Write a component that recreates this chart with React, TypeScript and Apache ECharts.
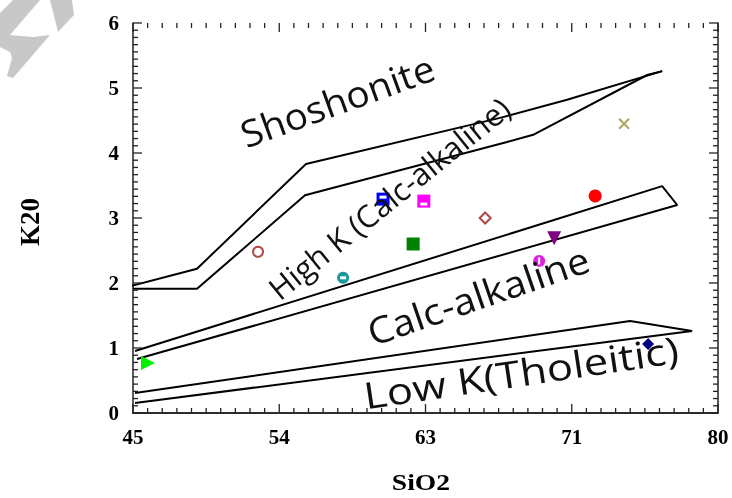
import React, { useEffect, useRef } from "react";
import * as echarts from "echarts";

// Axis ticks (major values; labels rounded)
const xMajor = [45, 53.75, 62.5, 71.25, 80];
const yMajor = [0, 1, 2, 3, 4, 5, 6];
const xMinorPerMajor = 10;
const yMinorPerMajor = 9;

// Field boundaries [SiO2, K2O]
const shoUpper = [[44.22, 1.91], [48.83, 2.22], [55.35, 3.83], [66.96, 4.54], [70.97, 4.82], [76.66, 5.26]];
const shoLower = [[45, 1.91], [48.83, 1.91], [55.29, 3.35], [67.38, 4.17], [68.94, 4.28], [75.76, 5.2], [76.66, 5.26]];
const caBand = [[45.12, 0.954], [76.66, 3.49], [77.56, 3.2], [45.24, 0.83]];
const lowKBand = [[45.12, 0.308], [74.74, 1.415], [78.45, 1.26], [45.12, 0.154]];

// Samples
const sGreenTri = [[45.9, 0.77]];
const sTealCircle = [[57.57, 2.08]];
const sBrownCircle = [[52.48, 2.48]];
const sBrownDiamond = [[66.07, 3.0]];
const sBlueSquare = [[59.96, 3.29]];
const sMagentaSquare = [[62.4, 3.26]];
const sGreenSquare = [[61.76, 2.6]];
const sRedCircle = [[72.65, 3.34]];
const sPurpleTri = [[70.2, 2.69]];
const sMagentaCircle = [[69.3, 2.34]];
const sOliveX = [[74.38, 4.45]];
const sNavyDiamond = [[75.82, 1.06]];

const fieldLabels = [
  { text: "Shoshonite", x: 337, y: 100, angle: 20, size: 37, sx: 1.05 },
  { text: "High K (Calc-alkaline)", x: 389, y: 198, angle: 39, size: 31, sx: 1.0 },
  { text: "Calc-alkaline", x: 478, y: 295, angle: 19, size: 37, sx: 1.08 },
  { text: "Low K(Tholeitic)", x: 521, y: 372, angle: 8.5, size: 37, sx: 1.18 },
];

export default function App() {
  const ref = useRef<HTMLDivElement>(null);
  useEffect(() => {
    if (!ref.current) return;
    const chart = echarts.init(ref.current, null, { renderer: "svg" });
    const axisCommon = {
      type: "value",
      axisLine: { show: true, lineStyle: { color: "#222", width: 1.5 } },
      axisTick: { show: false },
      splitLine: { show: false },
    };
    const labelStyle = { color: "#000", fontFamily: "Liberation Serif", fontWeight: "bold", fontSize: 21 };
    const line = (data: number[][], clip = true) => ({
      type: "line",
      data,
      symbol: "none",
      clip,
      lineStyle: { color: "#000", width: 2 },
      z: 2,
      silent: true,
    });
    const sc = (data: number[][], symbol: string, size: any, itemStyle: any, extra: any = {}) => ({
      type: "scatter",
      data,
      symbol,
      symbolSize: size,
      itemStyle: { opacity: 1, ...itemStyle },
      z: 5,
      ...extra,
    });
    const bar = (data: number[][], size: any, offset: number[]) =>
      sc(data, "rect", size, { color: "#fff" }, { symbolOffset: offset, z: 6 });

    const tickSeries = {
      type: "custom",
      data: [[45, 0]],
      clip: false,
      silent: true,
      z: 3,
      renderItem: (_params: any, api: any) => {
        const children: any[] = [];
        const seg = (x1: number, y1: number, x2: number, y2: number) =>
          children.push({
            type: "line",
            shape: { x1, y1, x2, y2 },
            style: { stroke: "#222", lineWidth: 1.3 },
          });
        const y0 = yMajor[0];
        const y1 = yMajor[yMajor.length - 1];
        const x0 = xMajor[0];
        const x1 = xMajor[xMajor.length - 1];
        for (let i = 0; i < xMajor.length; i++) {
          const steps = i < xMajor.length - 1 ? xMinorPerMajor : 1;
          for (let j = 0; j < steps; j++) {
            const v = i < xMajor.length - 1 ? xMajor[i] + ((xMajor[i + 1] - xMajor[i]) * j) / xMinorPerMajor : xMajor[i];
            const len = j === 0 ? 9 : 5;
            const b = api.coord([v, y0]);
            const t = api.coord([v, y1]);
            seg(b[0], b[1], b[0], b[1] - len);
            seg(t[0], t[1], t[0], t[1] + len);
          }
        }
        for (let i = 0; i < yMajor.length; i++) {
          const steps = i < yMajor.length - 1 ? yMinorPerMajor : 1;
          for (let j = 0; j < steps; j++) {
            const v = i < yMajor.length - 1 ? yMajor[i] + ((yMajor[i + 1] - yMajor[i]) * j) / yMinorPerMajor : yMajor[i];
            const len = j === 0 ? 9 : 5;
            const l = api.coord([x0, v]);
            const r = api.coord([x1, v]);
            seg(l[0], l[1], l[0] + len, l[1]);
            seg(r[0], r[1], r[0] - len, r[1]);
          }
        }
        return { type: "group", children };
      },
    };

    chart.setOption({
      animation: false,
      grid: { left: 133, right: 14, top: 23, bottom: 85 },
      xAxis: [
        {
          ...axisCommon,
          position: "bottom",
          min: 45,
          max: 80,
          interval: 8.75,
          axisLabel: { ...labelStyle, margin: 13, formatter: (v: number) => String(Math.round(v)) },
        },
        {
          ...axisCommon,
          position: "top",
          min: 45,
          max: 80,
          interval: 8.75,
          axisLabel: { show: false },
        },
      ],
      yAxis: [
        {
          ...axisCommon,
          position: "left",
          min: 0,
          max: 6,
          interval: 1,
          axisLabel: { ...labelStyle, margin: 14, formatter: (v: number) => String(v) },
        },
        {
          ...axisCommon,
          position: "right",
          min: 0,
          max: 6,
          interval: 1,
          axisLabel: { show: false },
        },
      ],
      series: [
        tickSeries,
        line(shoUpper, false),
        line(shoLower),
        line(caBand),
        line(lowKBand),
        sc(sGreenTri, "triangle", 14, { color: "#00ee00" }, { symbolRotate: -90 }),
        sc(sTealCircle, "circle", 12, { color: "#1a9a9a" }),
        bar(sTealCircle, [6, 3], [0, 0]),
        sc(sBrownCircle, "circle", 10, { color: "#fff", borderColor: "#b04848", borderWidth: 2 }),
        sc(sBrownDiamond, "diamond", 11, { color: "#fff", borderColor: "#b04848", borderWidth: 2 }),
        sc(sBlueSquare, "rect", 13, { color: "#0000ff" }),
        bar(sBlueSquare, [7, 3], [0, -2]),
        sc(sMagentaSquare, "rect", 13, { color: "#ff00ff" }),
        bar(sMagentaSquare, [7, 3], [0, 3]),
        sc(sGreenSquare, "rect", 13, { color: "#008000" }),
        sc(sRedCircle, "circle", 13, { color: "#ff0000" }),
        sc(sPurpleTri, "triangle", 14, { color: "#800080" }, { symbolRotate: 180 }),
        sc(sMagentaCircle, "circle", 12, { color: "#dd22dd" }),
        bar(sMagentaCircle, [2, 7], [0, 0]),
        sc(sOliveX, "path://M0,0L10,10M10,0L0,10", 10, { color: "none", borderColor: "#a8a860", borderWidth: 2 }),
        sc(sNavyDiamond, "diamond", 12, { color: "#000080" }),
      ],
      graphic: [
        {
          type: "polygon",
          shape: { points: [[13, 0], [40, 0], [10, 35], [33, 37], [50, 35], [13, 78], [7, 76], [12, 58], [10, 52], [0, 47], [0, 13]] },
          style: { fill: "#c8c8c8" },
          z: -1,
        },
        {
          type: "polygon",
          shape: { points: [[50, 0], [72, 0], [74, 15], [58, 32]] },
          style: { fill: "#c8c8c8" },
          z: -1,
        },
        ...fieldLabels.map((l) => ({
          type: "text",
          x: l.x,
          y: l.y,
          scaleX: l.sx,
          rotation: (l.angle * Math.PI) / 180,
          style: {
            text: l.text,
            fontFamily: "Open Sans",
            fontSize: l.size,
            fill: "#111",
            textAlign: "center",
            textVerticalAlign: "middle",
          },
          z: 10,
        })),
        {
          type: "text",
          x: 30,
          y: 222,
          rotation: Math.PI / 2,
          style: {
            text: "K20",
            fontFamily: "Liberation Serif",
            fontWeight: "bold",
            fontSize: 27,
            fill: "#000",
            textAlign: "center",
            textVerticalAlign: "middle",
          },
        },
        {
          type: "text",
          x: 421,
          y: 482,
          scaleX: 1.15,
          style: {
            text: "SiO2",
            fontFamily: "Liberation Serif",
            fontWeight: "bold",
            fontSize: 24,
            fill: "#000",
            textAlign: "center",
            textVerticalAlign: "middle",
          },
        },
      ],
    });
    return () => chart.dispose();
  }, []);
  return <div ref={ref} style={{ position: "fixed", left: 0, top: 0, width: 732, height: 498 }} />;
}
